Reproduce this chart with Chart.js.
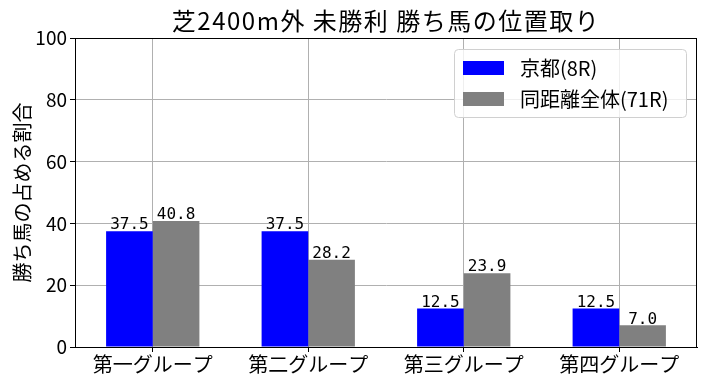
<!DOCTYPE html>
<html>
<head>
<meta charset="utf-8">
<script src="https://cdn.jsdelivr.net/npm/chart.js@4"></script>
<style>
  html, body { margin: 0; padding: 0; background: #fff; }
  #wrap { width: 706px; height: 386px; }
</style>
</head>
<body>
<div id="wrap"><canvas id="chart" width="706" height="386"></canvas></div>
<script>
// Data
const titleText = '芝2400m外 未勝利 勝ち馬の位置取り';
const yAxisLabel = '勝ち馬の占める割合';
const categories = ['第一グループ', '第二グループ', '第三グループ', '第四グループ'];
const kyotoLabel = '京都(8R)';
const kyotoValues = [37.5, 37.5, 12.5, 12.5];
const allLabel = '同距離全体(71R)';
const allValues = [40.8, 28.2, 23.9, 7.0];
const yTicks = [0, 20, 40, 60, 80, 100];

const CJK = '"Noto Sans CJK JP", "Noto Sans", sans-serif';

// Title, frame, bar value labels and legend drawn on top
const extrasPlugin = {
    id: 'extras',
    afterDatasetsDraw(chart) {
        const ctx = chart.ctx;
        const area = chart.chartArea;
        ctx.save();

        // title
        ctx.fillStyle = '#000';
        ctx.font = '24px ' + CJK;
        ctx.letterSpacing = '1.5px';
        ctx.textAlign = 'center';
        ctx.textBaseline = 'alphabetic';
        ctx.fillText(titleText, (area.left + area.right) / 2, 30);
        ctx.letterSpacing = '0px';

        // frame
        ctx.strokeStyle = '#000';
        ctx.lineWidth = 1;
        ctx.strokeRect(area.left + 0.5, area.top + 0.5, area.right - area.left - 1, area.bottom - area.top);

        // value labels
        ctx.font = '16px "DejaVu Sans Mono", monospace';
        ctx.textBaseline = 'bottom';
        chart.data.datasets.forEach((ds, i) => {
            const meta = chart.getDatasetMeta(i);
            meta.data.forEach((bar, j) => {
                ctx.fillText(ds.data[j].toFixed(1), bar.x, bar.y + 2);
            });
        });

        // legend box
        const lx = 454, ly = 49, lw = 232, lh = 68;
        ctx.fillStyle = 'rgba(255,255,255,0.8)';
        ctx.strokeStyle = '#d0d0d0';
        ctx.beginPath();
        ctx.roundRect(lx + 0.5, ly + 0.5, lw, lh, 4);
        ctx.fill();
        ctx.stroke();
        ctx.font = '20px ' + CJK;
        ctx.textAlign = 'left';
        ctx.textBaseline = 'middle';
        chart.data.datasets.forEach((ds, i) => {
            const cy = ly + 19 + i * 31;
            ctx.fillStyle = ds.backgroundColor;
            ctx.fillRect(lx + 9, cy - 7, 41, 14);
            ctx.fillStyle = '#000';
            ctx.fillText(ds.label, lx + 66, cy);
        });
        ctx.restore();
    }
};

new Chart(document.getElementById('chart').getContext('2d'), {
    type: 'bar',
    data: {
        labels: categories,
        datasets: [
            { label: kyotoLabel, data: kyotoValues, backgroundColor: '#0000ff' },
            { label: allLabel, data: allValues, backgroundColor: '#808080' }
        ]
    },
    options: {
        responsive: false,
        animation: false,
        layout: { padding: { top: 38, right: 9, left: 0, bottom: 0 } },
        datasets: {
            bar: { categoryPercentage: 0.6, barPercentage: 1.0 }
        },
        plugins: {
            legend: { display: false },
            tooltip: { enabled: false }
        },
        scales: {
            x: {
                grid: { offset: false, color: '#b0b0b0', tickColor: '#000', tickLength: 5 },
                border: { color: '#000' },
                ticks: { color: '#000', font: { family: CJK, size: 20 }, padding: 0, maxRotation: 0 },
                afterFit(scale) { scale.height = 39; }
            },
            y: {
                min: 0,
                max: 100,
                afterBuildTicks(scale) { scale.ticks = yTicks.map(v => ({ value: v })); },
                grid: { color: '#b0b0b0', tickColor: '#000', tickLength: 5 },
                border: { color: '#000' },
                ticks: { color: '#000', font: { family: CJK, size: 19 }, padding: 3 },
                title: { display: true, text: yAxisLabel, color: '#000', font: { family: CJK, size: 20 }, padding: { top: 10, bottom: 0 } },
                afterFit(scale) { scale.width = 75; }
            }
        }
    },
    plugins: [extrasPlugin]
});
</script>
</body>
</html>
